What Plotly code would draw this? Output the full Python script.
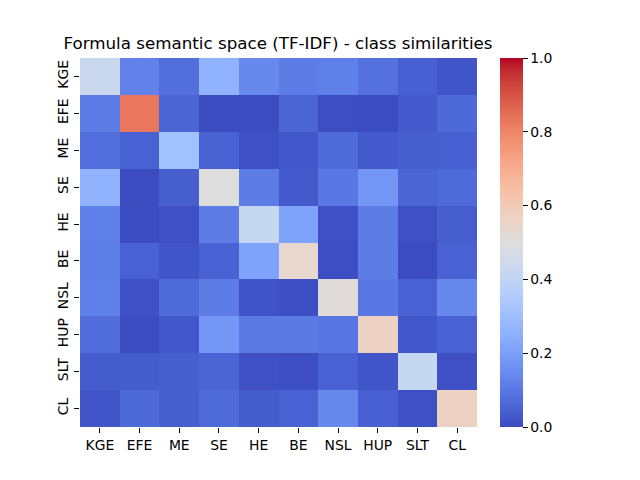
import plotly.graph_objects as go

classes = ["KGE", "EFE", "ME", "SE", "HE", "BE", "NSL", "HUP", "SLT", "CL"]

# similarity rows (row = y label, col = x label)
kge = [0.43, 0.125, 0.08, 0.26, 0.14, 0.11, 0.12, 0.085, 0.045, 0.02]
efe = [0.11, 0.83, 0.055, 0.0, 0.0, 0.055, 0.005, 0.0, 0.03, 0.065]
me = [0.08, 0.05, 0.31, 0.05, 0.01, 0.025, 0.07, 0.03, 0.04, 0.045]
se = [0.26, 0.0, 0.04, 0.5, 0.11, 0.03, 0.1, 0.18, 0.055, 0.07]
he = [0.12, 0.0, 0.01, 0.11, 0.42, 0.21, 0.01, 0.11, 0.01, 0.04]
be = [0.115, 0.05, 0.02, 0.05, 0.21, 0.54, 0.005, 0.11, 0.0, 0.05]
nsl = [0.12, 0.01, 0.07, 0.11, 0.015, 0.005, 0.51, 0.1, 0.05, 0.14]
hup = [0.075, 0.0, 0.025, 0.18, 0.105, 0.105, 0.095, 0.57, 0.025, 0.05]
slt = [0.035, 0.035, 0.04, 0.055, 0.01, 0.005, 0.05, 0.02, 0.42, 0.01]
cl = [0.02, 0.065, 0.04, 0.07, 0.035, 0.05, 0.14, 0.045, 0.01, 0.57]

sim = [kge, efe, me, se, he, be, nsl, hup, slt, cl]

# matplotlib coolwarm
cw = [(59,76,192),(68,90,204),(77,104,215),(87,117,225),(98,130,234),(108,142,241),
      (119,154,247),(130,165,251),(141,176,254),(152,185,255),(163,194,255),(174,201,253),
      (184,208,249),(194,213,244),(204,217,238),(213,219,230),(221,221,221),(229,216,209),
      (236,211,197),(241,204,184),(245,196,172),(247,187,160),(247,177,148),(247,166,135),
      (244,154,123),(241,141,111),(236,127,99),(229,112,88),(222,96,77),(213,80,66),
      (203,62,56),(192,40,47),(180,4,38)]
coolwarm = [[i / (len(cw) - 1), "rgb(%d,%d,%d)" % c] for i, c in enumerate(cw)]

fig = go.Figure(go.Heatmap(
    z=sim, x=classes, y=classes,
    zmin=0, zmax=1, colorscale=coolwarm,
    colorbar=dict(
        x=(500 - 80) / 397, xanchor="left", xpad=0,
        y=0.5, yanchor="middle", len=1, lenmode="fraction", ypad=0,
        thickness=23, outlinewidth=0,
        tickvals=[0, 0.2, 0.4, 0.6, 0.8, 1.0], tickformat=".1f",
        ticks="outside", ticklen=5, tickcolor="black",
        tickfont=dict(size=13.9, color="black"),
    ),
))

# page puts the plot 8px in from the corner, so margins are shifted by 8
fig.update_layout(
    width=640, height=480,
    margin=dict(l=72, r=171, t=50, b=61),
    paper_bgcolor="white", plot_bgcolor="white",
    font=dict(family="DejaVu Sans", color="black"),
    title=dict(text="Formula semantic space (TF-IDF) - class similarities",
               x=(278 - 8) / 640, xanchor="center", y=1 - 35 / 480, yanchor="middle",
               font=dict(size=16.7, color="black")),
    xaxis=dict(ticks="outside", ticklen=5, tickcolor="black", showgrid=False,
               zeroline=False, tickfont=dict(size=13.9)),
    yaxis=dict(ticks="outside", ticklen=5, tickcolor="black", showgrid=False,
               zeroline=False, autorange="reversed", tickangle=-90,
               tickfont=dict(size=13.9)),
)

fig.write_html("out.html")
